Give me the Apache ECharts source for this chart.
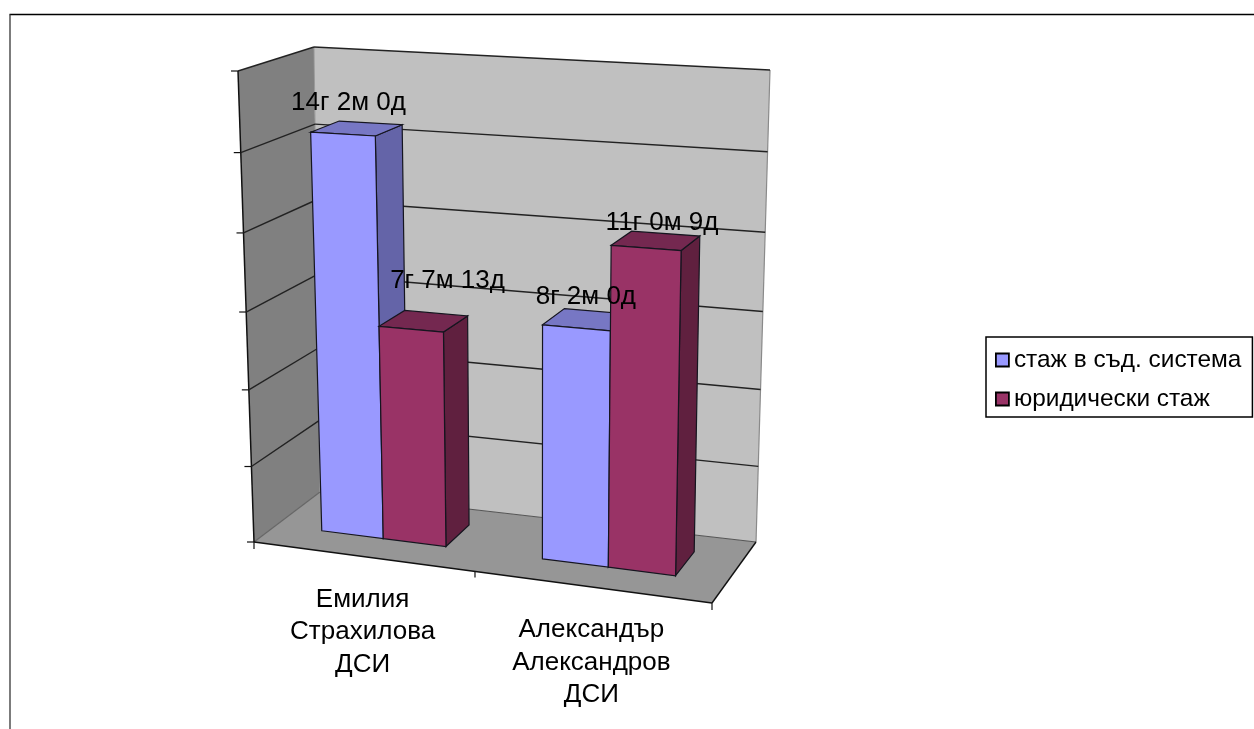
<!DOCTYPE html>
<html><head><meta charset="utf-8">
<script src="https://cdn.jsdelivr.net/npm/echarts@6/dist/echarts.min.js"></script>
<style>html,body{margin:0;padding:0;background:#fff}#c{width:1254px;height:729px;filter:blur(0.45px)}</style>
</head><body><div id="c"></div>
<script>
// ---- data ----
const categories = ['Емилия\nСтрахилова\nДСИ', 'Александър\nАлександров\nДСИ'];
const seriesNames = ['стаж в съд. система', 'юридически стаж'];
const stazhSad = [5170, 2980];      // days
const stazhYur = [2778, 4024];      // days
const labelsSad = ['14г 2м 0д', '8г 2м 0д'];
const labelsYur = ['7г 7м 13д', '11г 0м 9д'];
const ticks = [0, 1000, 2000, 3000, 4000, 5000, 6000];

// ---- perspective box: screen corners of the plot cube ----
const C = {
  fbl:[254,542], fbr:[712,603], btl:[314,47], btr:[770,70],
  bbl:[320,492], bbr:[756,542], ftl:[238,71], ftr:[727,94]
};
const PU = -0.0676, PV = -0.0457, Z0 = 0.34, Z1 = 0.74, LEAN = 2.5, FONT = 'Liberation Sans, Arial, sans-serif';
const lerp = (a,b,t)=>[a[0]+(b[0]-a[0])*t, a[1]+(b[1]-a[1])*t];
function warp(u,v,z){
  const U=(1+PU)*u/(1+PU*u), V=(1+PV)*v/(1+PV*v);
  const fb=lerp(C.fbl,C.fbr,U), ft=lerp(C.ftl,C.ftr,U), bb=lerp(C.bbl,C.bbr,U), bt=lerp(C.btl,C.btr,U);
  return lerp(lerp(fb,ft,V), lerp(bb,bt,V), z);
}
function norm(params, pt){
  const g=params.coordSys;
  return [(pt[0]-g.x)/g.width, (g.y+g.height-pt[1])/g.height];
}
const poly=(pts,fill,stroke,lw)=>({type:'polygon',shape:{points:pts},style:{fill:fill,stroke:stroke||null,lineWidth:lw||0}});
const line=(a,b,stroke,lw)=>({type:'line',shape:{x1:a[0],y1:a[1],x2:b[0],y2:b[1]},style:{stroke:stroke,lineWidth:lw||1}});

function renderWalls(params, api){
  return {type:'group',children:[
    poly([C.ftl,C.btl,C.bbl,C.fbl],'#808080'),
    poly([C.btl,C.btr,C.bbr,C.bbl],'#c0c0c0'),
    poly([C.fbl,C.bbl,C.bbr,C.fbr],'#969696'),
    line(C.btr,C.bbr,'#8a8a8a',1.2),
    line(C.bbl,C.bbr,'#555',1.2),
    line(C.bbl,C.fbl,'#666',1.2),
    line(C.btl,C.bbl,'#999',1),
    line(C.btl,C.btr,'#222',1.4),
    line(C.ftl,C.btl,'#222',1.4),
    line(C.bbr,C.fbr,'#111',1.4),
    line(C.fbl,C.fbr,'#111',1.5),
    line(C.ftl,C.fbl,'#111',1.5),
    line([C.fbl[0],C.fbl[1]],[C.fbl[0],C.fbl[1]+7],'#111',1.2),
    line([C.fbr[0],C.fbr[1]],[C.fbr[0],C.fbr[1]+7],'#111',1.2)
  ]};
}
function renderGrid(params, api){
  const p=norm(params, api.coord([0,api.value(0)])), v=p[1];
  const a=warp(0,v,0), b=warp(0,v,1), c=warp(1,v,1);
  const ch=[line([a[0]-7,a[1]],a,'#111',1.2)];
  if(v>0.001 && v<0.999){ ch.push(line(b,c,'#222',1.4)); ch.push(line(a,b,'#222',1.4)); }
  return {type:'group',children:ch};
}
function renderCatTick(params, api){
  const g=params.coordSys, x=api.coord([api.value(0),0])[0]+api.size([1,0])[0]/2;
  const a=warp((x-g.x)/g.width,0,0);
  return line(a,[a[0],a[1]+6],'#111',1.2);
}
function barRenderer(side, front, top, sidec){
  return function(params, api){
    const cx=api.coord([api.value(0),0])[0], band=api.size([1,0])[0], w=band/3.5;
    const l=side<0?cx-w:cx, r=side<0?cx:cx+w;
    const g=params.coordSys;
    const u0=(l-g.x)/g.width, u1=(r-g.x)/g.width;
    const v=norm(params, api.coord([api.value(0),api.value(1)]))[1];
    const s='#15151f';
    const P=(u,vv,z)=>{const q=warp(u,vv,z); return [q[0]-LEAN*vv/0.8,q[1]];};
    return {type:'group',children:[
      poly([P(u1,0,Z0),P(u1,0,Z1),P(u1,v,Z1),P(u1,v,Z0)],sidec,s,1.2),
      poly([P(u0,v,Z0),P(u1,v,Z0),P(u1,v,Z1),P(u0,v,Z1)],top,s,1.2),
      poly([P(u0,0,Z0),P(u1,0,Z0),P(u1,v,Z0),P(u0,v,Z0)],front,s,1.2)
    ]};
  };
}
const LABEL_NUDGE = {sad:[[3,-31],[8,-31]], yur:[[35,-48],[14,-25]]};
function labelRenderer(side, texts, nudge){
  return function(params, api){
    const i=api.value(0), cx=api.coord([i,0])[0], band=api.size([1,0])[0], w=band/3.5;
    const xc=side<0?cx-w/2:cx+w/2, g=params.coordSys;
    const v=norm(params, api.coord([i,api.value(1)]))[1];
    const p=warp((xc-g.x)/g.width,v,Z0);
    return {type:'text',style:{text:texts[i],x:p[0]+nudge[i][0],y:p[1]+nudge[i][1],
      fill:'#000',font:'26px '+FONT,align:'center',verticalAlign:'middle'}};
  };
}
function renderCatLabel(params, api){
  const i=api.value(0), g=params.coordSys, x=api.coord([i,0])[0];
  const p=warp((x-g.x)/g.width,0,0);
  return {type:'text',style:{text:categories[i],x:p[0],y:p[1]+27,fill:'#000',
    font:'26px '+FONT,lineHeight:32.5,align:'center',verticalAlign:'top'}};
}
const idx=a=>a.map((v,i)=>[i,v]);
const base={type:'custom',silent:true,clip:false,animation:false};

const chart=echarts.init(document.getElementById('c'),null,{renderer:'canvas'});
chart.setOption({
  animation:false,
  backgroundColor:'#fff',
  grid:{left:200,top:50,width:600,height:600},
  xAxis:{type:'category',data:categories,show:false},
  yAxis:{type:'value',min:0,max:6000,interval:1000,show:false},
  tooltip:{show:false},
  legend:{
    data:seriesNames,orient:'vertical',left:986,top:337,icon:'rect',
    backgroundColor:'#fff',borderColor:'#000',borderWidth:1.5,borderRadius:0,
    padding:[11,11,6,9],itemGap:15,itemWidth:13,itemHeight:13,
    itemStyle:{borderColor:'#000',borderWidth:1.8},selectedMode:false,
    textStyle:{fontFamily:FONT,fontSize:24.4,color:'#000'}
  },
  graphic:[
    {type:'line',shape:{x1:9.5,y1:14.5,x2:1254,y2:14.5},style:{stroke:'#000',lineWidth:1.4}},
    {type:'line',shape:{x1:10,y1:14.5,x2:10,y2:729},style:{stroke:'#444',lineWidth:1.4}}
  ],
  series:[
    {...base,name:'walls',z:1,data:[[0,0]],renderItem:renderWalls},
    {...base,name:'grid',z:2,data:ticks.map(t=>[t]),encode:{x:-1,y:0},renderItem:renderGrid},
    {...base,name:'catTicks',z:2,data:[[0,0]],renderItem:renderCatTick},
    {...base,name:seriesNames[0],z:3,itemStyle:{color:'#9999ff'},data:idx(stazhSad),
      renderItem:barRenderer(-1,'#9999ff','#7777c4','#6464a8')},
    {...base,name:seriesNames[1],z:4,itemStyle:{color:'#993366'},data:idx(stazhYur),
      renderItem:barRenderer(1,'#993366','#742850','#60203f')},
    {...base,name:'lab1',z:6,data:idx(stazhSad),renderItem:labelRenderer(-1,labelsSad,LABEL_NUDGE.sad)},
    {...base,name:'lab2',z:6,data:idx(stazhYur),renderItem:labelRenderer(1,labelsYur,LABEL_NUDGE.yur)},
    {...base,name:'catLab',z:6,data:categories.map((c,i)=>[i,0]),renderItem:renderCatLabel}
  ]
});
</script></body></html>
